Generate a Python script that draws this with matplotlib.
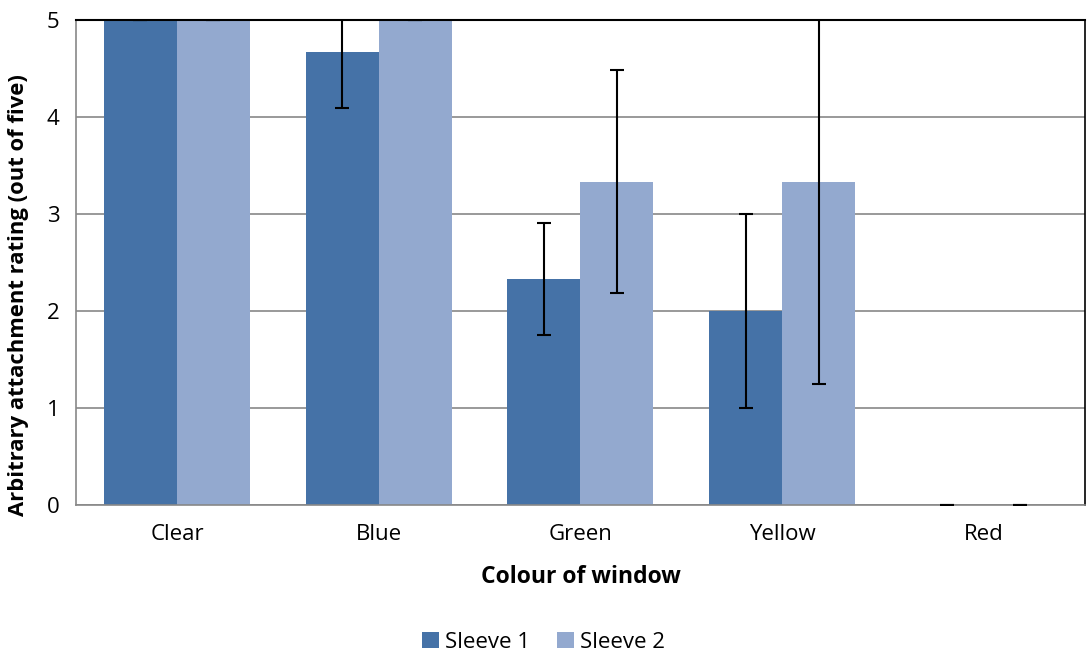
import matplotlib
matplotlib.use("Agg")
import matplotlib.pyplot as plt
import numpy as np

plt.rcParams['font.family'] = ['Open Sans', 'DejaVu Sans']

categories = ["Clear", "Blue", "Green", "Yellow", "Red"]
sleeve1 = [5.0, 4.67, 2.33, 2.0, 0.0]
sleeve2 = [5.0, 5.0, 3.33, 3.33, 0.0]
err1 = [0.0, 0.58, 0.58, 1.0, 0.0]
err2 = [0.0, 0.0, 1.15, 2.08, 0.0]
yticks = [0, 1, 2, 3, 4, 5]

c1 = "#4572A7"
c2 = "#93A9CF"

fig = plt.figure(figsize=(10.87, 6.66), dpi=100)
ax = fig.add_axes([0.070, 0.242, 0.928, 0.728])

x = np.arange(len(categories))
w = 0.362
ax.bar(x - w/2, sleeve1, w, color=c1, label="Sleeve 1", zorder=2)
ax.bar(x + w/2, sleeve2, w, color=c2, label="Sleeve 2", zorder=2)
ax.errorbar(x - w/2, sleeve1, yerr=err1, fmt='none', ecolor='black', elinewidth=1.5,
            capsize=5, capthick=1.5, zorder=3)
ax.errorbar(x + w/2, sleeve2, yerr=err2, fmt='none', ecolor='black', elinewidth=1.5,
            capsize=5, capthick=1.5, zorder=3)

ax.set_xlim(-0.5, len(categories) - 0.5)
ax.set_ylim(0, 5)
ax.set_yticks(yticks)
ax.set_yticklabels([str(t) for t in yticks], fontsize=16)
ax.set_xticks(x)
ax.set_xticklabels(categories, fontsize=16)
ax.tick_params(axis='both', length=0)
ax.tick_params(axis='x', pad=14)
ax.tick_params(axis='y', pad=12)
ax.yaxis.grid(True, color='#888888', linewidth=1.2, zorder=0)
ax.set_axisbelow(True)

ax.spines['left'].set_color('#888888')
ax.spines['bottom'].set_color('#888888')
ax.spines['left'].set_linewidth(1.2)
ax.spines['bottom'].set_linewidth(1.2)
ax.spines['top'].set_color('black')
ax.spines['right'].set_color('black')
ax.spines['top'].set_linewidth(1.5)
ax.spines['right'].set_linewidth(1.2)

ax.set_xlabel("Colour of window", fontsize=16.5, fontweight='bold', labelpad=14)
ax.set_ylabel("Arbitrary attachment rating (out of five)", fontsize=15.8, fontweight='bold')
ax.yaxis.set_label_coords(-0.047, 0.433)

fig.legend(loc='lower center', bbox_to_anchor=(0.5, -0.01), ncol=2, frameon=False,
           fontsize=16, handlelength=0.75, handleheight=0.75, handletextpad=0.3, columnspacing=1.2)

fig.savefig("out.png", dpi=100)
